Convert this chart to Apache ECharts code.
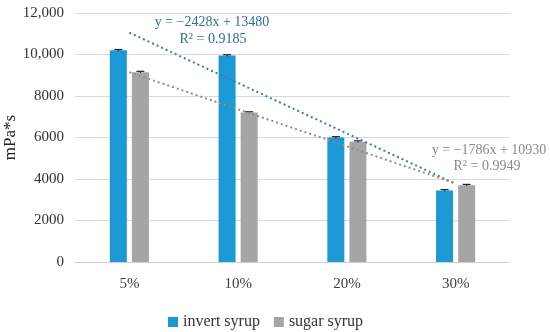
<!DOCTYPE html>
<html><head><meta charset="utf-8">
<script src="https://cdn.jsdelivr.net/npm/echarts@6/dist/echarts.min.js"></script>
<style>html,body{margin:0;padding:0;background:#fff}#c{width:550px;height:332px}</style>
</head><body><div id="c"></div>
<script>
const categories = ['5%', '10%', '20%', '30%'];
const invertSyrup = [10200, 9950, 6000, 3450];
const sugarSyrup = [9150, 7200, 5800, 3700];
const invertErr = [40, 40, 40, 40];
const sugarErr = [40, 40, 40, 40];
// linear trend values at each category (from the displayed equations)
const invertTrend = [11052, 8624, 6196, 3768];
const sugarTrend = [9144, 7358, 5572, 3786];
const yTicks = [0, 2000, 4000, 6000, 8000, 10000, 12000];

const FONT = 'Liberation Serif';
const chart = echarts.init(document.getElementById('c'));

function errSeries(name, vals, errs, offset) {
  return {
    name: name + '_err', type: 'custom', silent: true, z: 5,
    data: vals.map((v, i) => [i, v, errs[i]]),
    renderItem: function (params, api) {
      const i = api.value(0), v = api.value(1), e = api.value(2);
      const hi = api.coord([i, v + e]);
      const lo = api.coord([i, v - e]);
      const x = hi[0] + offset;
      return {
        type: 'group',
        children: [
          {type: 'line', shape: {x1: x, y1: hi[1], x2: x, y2: lo[1]}, style: {stroke: '#222', lineWidth: 1}},
          {type: 'line', shape: {x1: x - 4, y1: hi[1], x2: x + 4, y2: hi[1]}, style: {stroke: '#222', lineWidth: 1.2}}
        ]
      };
    }
  };
}

chart.setOption({
  animation: false,
  textStyle: {fontFamily: FONT},
  grid: {left: 75, right: 40, top: 13, bottom: 70, containLabel: false, outerBoundsMode: 'none'},
  legend: {
    left: 163, top: 309, itemWidth: 10, itemHeight: 10, itemGap: 14,
    icon: 'rect',
    data: ['invert syrup', 'sugar syrup'],
    textStyle: {fontFamily: FONT, fontSize: 16, color: '#333'}
  },
  xAxis: {
    type: 'category', data: categories,
    axisLine: {lineStyle: {color: '#d0d0d0', width: 1}},
    axisTick: {show: false},
    axisLabel: {fontFamily: FONT, fontSize: 15, color: '#404040', margin: 15}
  },
  yAxis: {
    type: 'value', min: 0, max: 12000, interval: 2000,
    name: 'mPa*s', nameLocation: 'middle', nameGap: 56, nameRotate: 90, nameMoveOverlap: false,
    nameTextStyle: {fontFamily: FONT, fontSize: 17, color: '#222'},
    axisLine: {show: false}, axisTick: {show: false},
    splitLine: {lineStyle: {color: '#d9d9d9', width: 1}},
    axisLabel: {
      fontFamily: FONT, fontSize: 15, color: '#333', margin: 11,
      formatter: v => v >= 10000 ? v.toLocaleString('en-US') : String(v)
    }
  },
  series: [
    {name: 'invert syrup', type: 'bar', data: invertSyrup, barWidth: 17, barGap: '30%',
     itemStyle: {color: '#1B98D6'}},
    {name: 'sugar syrup', type: 'bar', data: sugarSyrup, barWidth: 17,
     itemStyle: {color: '#A5A5A5'}},
    errSeries('invert', invertSyrup, invertErr, -11),
    errSeries('sugar', sugarSyrup, sugarErr, 11),
    {name: 'invert trend', type: 'line', data: invertTrend, symbol: 'none', z: 6,
     lineStyle: {color: '#3C7EA3', width: 2, type: [2, 3]}},
    {name: 'sugar trend', type: 'line', data: sugarTrend, symbol: 'none', z: 6,
     lineStyle: {color: '#8E8E8E', width: 2, type: [2, 3]}}
  ],
  graphic: [
    {type: 'text', x: 212, y: 22, style: {text: 'y = \u22122428x + 13480', fill: '#2E6F91', font: '14px "Liberation Serif"', align: 'center', verticalAlign: 'middle'}},
    {type: 'text', x: 213, y: 39, style: {text: 'R\u00b2 = 0.9185', fill: '#2E6F91', font: '14px "Liberation Serif"', align: 'center', verticalAlign: 'middle'}},
    {type: 'text', x: 489, y: 150, style: {text: 'y = \u22121786x + 10930', fill: '#8A8A8A', font: '14px "Liberation Serif"', align: 'center', verticalAlign: 'middle'}},
    {type: 'text', x: 487, y: 166, style: {text: 'R\u00b2 = 0.9949', fill: '#8A8A8A', font: '14px "Liberation Serif"', align: 'center', verticalAlign: 'middle'}}
  ]
});
</script></body></html>
